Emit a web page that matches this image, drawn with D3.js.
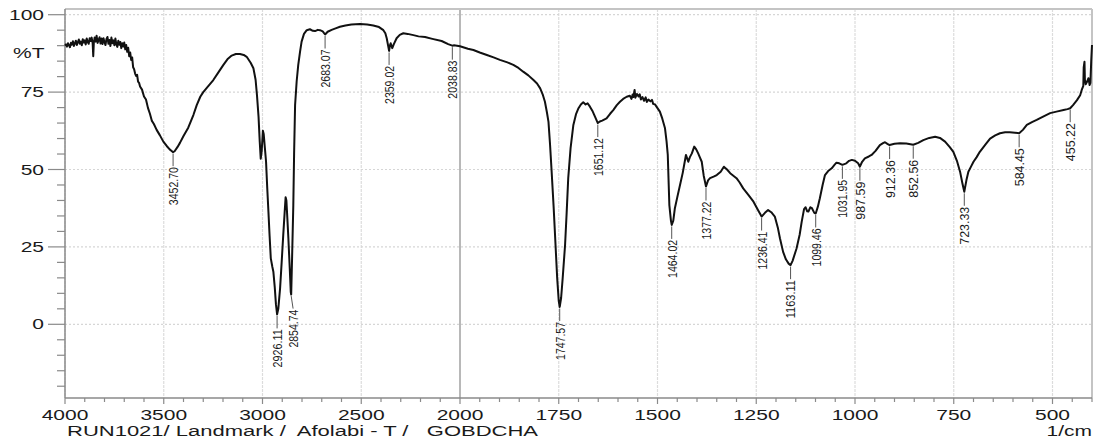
<!DOCTYPE html>
<html><head><meta charset="utf-8">
<script src="https://cdn.jsdelivr.net/npm/d3@7"></script>
<style>
html,body{margin:0;padding:0;background:#fff;}
svg{display:block;}
</style></head><body>
<svg id="chart" width="1096" height="445"></svg>
<script>
// FTIR spectrum: wavenumber (1/cm) against transmittance (%T)
const wavenumber = [
  4000,3995,3990,3985,3980,3975,3970,3965,3960,3955,
  3950,3945,3940,3935,3930,3925,3920,3915,3910,3905,
  3900,3895,3890,3885,3880,3875,3870,3865,3860,3857,
  3854,3850,3845,3840,3835,3830,3825,3820,3815,3810,
  3805,3800,3795,3790,3785,3780,3775,3770,3765,3760,
  3755,3750,3745,3740,3735,3730,3725,3720,3715,3710,
  3705,3700,3695,3690,3685,3680,3675,3670,3665,3660,
  3655,3650,3645,3640,3635,3630,3625,3620,
  3610,3600,3590,3580,3570,3560,3550,3536,3520,3502,3485,3470,3460,3452.70,3445,3430,3418,
  3400,3376,3350,3333,3315,3300,3280,3249,3225,3198,3175,3156,3135,3114,3095,3080,3060,3046,3035,3028,
  3020,3014,3009,3004,2998,2994,2988,2982,2976,2970,2964,2958,2950,2945,2938,2932,2926.11,2920,2911,2903,
  2895,2888,2883,2879,2874,2869,2862,2857,2854.74,2850,2844,2840,2835,2827,2819,2810,2802,2790,2776,2760,
  2745,2734,2720,2709,2695,2683.07,2670,2650,2630,2608,2580,2550,2506,2470,2439,2410,2388,2378,2371,2364,
  2359.02,2355,2351,2346,2343,2335,2321,2305,2287,2265,2236,2210,2177,2140,2093,2060,2038.83,2030,2015,2000,
  1980,1966,1950,1932,1915,1899,1880,1865,1852,1840,1827,1814,1805,1797,1790,1785,1780,1776,1772,1768,
  1763,1759,1754,1750,1747.57,1744,1740,1734,1730,1726,1720,1713,1706,1700,1694,1688,1682,1677,1671,1665,
  1658,1651.12,1646,1640,1629,1620,1612,1603,1595,1587,1578,
  1570,1566,1563,1561,1558,1556,1552,1548,1545,1542,1538,1534,1530,1527,1523,1518,1514,1511,1506,1503,
  1494,1488,1481,1477,1474,1470,1466,1464.02,1460,1456,1450,1443,1436,1428,1422,1418,
  1413,1407,1402,1397,1393,1388,1383,1377.22,1372,1367,1358,1350,1340,1332,1324,1316,1308,1300,1292,1283,
  1270,1257,1246,1236.41,1228,1220,1212,1203,1195,1190,1182,1175,1168,1163.11,1158,1148,1140,1135,1129,1125,
  1121,1118,1113,1109,1103,1099.46,1094,1089,1082,1076,1068,1059,1052,1047,1040,1031.95,1022,1015,1008,1000,
  992,987.59,982,975,965,958,948,937,928,924,918,912.36,900,886,870,852.56,840,827,812,797,
  785,772,760,751,742,734,728,723.33,718,713,706,700,692,684,670,658,645,633,620,608,
  595,584.45,575,565,552,540,525,506,490,472,462,455.22,448,438,430,426,422,421,419,418,
  416,412,409,406,404,402,400
];
const transmittance = [
  90.0,90.4,89.7,90.8,90.1,89.5,90.9,90.3,91.4,89.9,
  90.7,91.6,90.2,91.1,92.0,90.6,91.3,90.1,92.1,91.0,
  91.7,90.4,92.3,91.2,90.6,92.4,91.5,92.6,90.8,86.6,
  91.0,92.6,91.3,93.2,90.9,91.8,92.7,90.7,92.3,90.5,
  92.4,91.1,90.2,92.2,92.8,90.6,91.8,89.9,92.6,90.8,
  91.7,90.1,92.3,90.4,89.6,91.6,90.3,91.2,89.2,90.8,
  89.7,91.0,88.8,90.2,88.0,89.3,86.6,87.8,85.4,86.2,
  83.0,82.4,81.0,80.2,80.6,78.4,78.0,76.8,
  75.8,73.6,72.6,69.9,68.0,65.7,64.7,62.8,61.1,59.0,57.6,56.5,56.0,55.6,55.9,57.3,58.6,
  60.8,63.5,67.6,70.8,73.5,75.0,76.5,78.9,81.2,83.8,85.8,86.8,87.3,87.3,87.0,86.4,84.5,82.7,79.0,74.0,
  67.0,59.0,53.5,56.0,62.5,61.5,57.0,52.5,44.0,36.4,28.5,21.3,18.5,17.0,12.0,6.5,3.2,5.0,11.6,20.0,
  28.8,36.0,41.0,40.0,34.0,27.8,18.0,10.5,9.6,22.0,38.5,55.0,70.8,78.5,83.8,88.0,91.3,93.8,95.0,95.3,
  94.8,94.7,95.1,95.0,94.6,93.6,94.5,95.1,95.6,96.1,96.5,96.8,97.0,96.8,96.5,96.0,95.0,94.0,92.4,90.0,
  88.3,90.0,90.8,89.8,89.2,90.5,92.4,93.5,94.0,93.8,93.4,93.0,92.8,92.2,91.5,90.5,90.0,90.1,90.0,89.8,
  89.0,88.6,87.8,87.0,86.2,85.4,84.6,83.8,82.8,81.6,80.4,78.9,77.8,76.2,74.0,71.9,68.5,65.4,58.0,49.3,
  38.0,27.8,15.0,7.5,5.6,8.5,15.0,25.6,36.0,47.2,57.0,64.4,68.0,69.8,71.0,71.7,71.0,71.4,70.3,69.0,
  67.0,65.0,65.5,65.8,66.5,68.0,69.2,70.8,71.9,72.8,73.5,
  73.8,72.8,74.2,73.4,75.7,73.2,74.4,73.6,74.3,72.6,73.4,72.2,73.3,71.8,72.6,72.0,72.5,71.2,71.0,70.4,
  68.7,66.5,63.3,59.0,54.7,38.5,33.5,32.1,33.5,37.5,41.0,45.0,49.0,54.7,52.5,54.0,
  55.2,57.4,56.5,55.2,54.0,52.5,48.0,44.5,46.5,47.2,47.7,48.2,49.3,50.9,50.0,48.8,48.0,47.2,45.8,43.9,
  41.8,39.6,37.0,34.8,36.0,36.9,36.2,34.8,31.0,27.8,23.4,21.0,19.6,19.1,20.5,24.5,29.0,33.1,37.2,37.8,
  36.5,36.4,37.8,37.5,36.0,35.8,38.0,40.7,45.0,48.2,49.5,50.4,51.5,52.2,52.0,51.5,52.0,52.8,53.1,52.8,
  52.0,50.9,52.5,53.6,54.2,54.7,56.0,57.9,58.6,58.8,58.3,57.9,58.3,58.5,58.4,58.0,58.6,59.5,60.2,60.6,
  60.2,59.0,57.2,55.7,52.8,49.3,45.5,42.8,46.5,49.3,51.0,52.5,54.0,55.7,58.0,60.0,61.0,61.7,62.0,62.0,
  61.9,61.7,62.8,64.4,65.3,66.0,67.0,68.2,68.7,69.2,69.5,69.8,70.8,72.4,74.0,75.7,77.0,83.0,84.8,79.0,
  77.5,78.5,79.5,77.3,78.0,85.0,90.2
];
// Peak positions that carry a wavenumber label
const peakLabels = ["3452.70","2926.11","2854.74","2683.07","2359.02","2038.83","1747.57","1651.12",
  "1464.02","1377.22","1236.41","1163.11","1099.46","1031.95","987.59","912.36","852.56","723.33",
  "584.45","455.22"];
const xTickValues = [4000,3500,3000,2500,2000,1750,1500,1250,1000,750,500];
const yTickValues = [100,75,50,25,0];
const yTitle = "%T";
const xTitle = "1/cm";
const runCaption = "RUN1021/ Landmark /  Afolabi - T /   GOBDCHA";

const plot = {left: 65, right: 1092, top: 9, bottom: 398};
// the wavenumber axis doubles its scale below 2000 1/cm
const x = d3.scaleLinear().domain([4000, 2000, 400]).range([65, 460, 1092]);
const y = d3.scaleLinear().domain([0, 100]).range([324.3, 14.7]);

const svg = d3.select("#chart");
const font = "'Liberation Sans', Arial, Helvetica, sans-serif";
const stretch = 1.5;

// grid
const grid = svg.append("g");
xTickValues.forEach(v => {
  grid.append("line")
    .attr("x1", x(v)).attr("x2", x(v))
    .attr("y1", plot.top).attr("y2", plot.bottom)
    .attr("stroke", v === 2000 ? "#9a9a9a" : "#dcdcdc")
    .attr("stroke-width", v === 2000 ? 1.4 : 1.2)
    .attr("stroke-dasharray", v === 2000 ? null : "3,1");
});
yTickValues.forEach(v => {
  grid.append("line")
    .attr("x1", plot.left).attr("x2", plot.right)
    .attr("y1", y(v)).attr("y2", y(v))
    .attr("stroke", "#d6d6d6").attr("stroke-width", 1.2)
    .attr("stroke-dasharray", "2,2");
});

// frame
svg.append("line").attr("x1", plot.left).attr("x2", plot.right)
  .attr("y1", plot.top).attr("y2", plot.top)
  .attr("stroke", "#c4c4c4").attr("stroke-width", 2);
svg.append("line").attr("x1", plot.right).attr("x2", plot.right)
  .attr("y1", plot.top).attr("y2", plot.bottom)
  .attr("stroke", "#c4c4c4").attr("stroke-width", 2);

// y axis
const yMinor = d3.range(-20, 101, 5);
const yAxis = svg.append("g");
yAxis.append("line").attr("x1", plot.left).attr("x2", plot.left)
  .attr("y1", plot.top).attr("y2", plot.bottom).attr("stroke", "#8a8a8a").attr("stroke-width", 1.5);
yMinor.forEach(v => {
  const major = yTickValues.includes(v);
  yAxis.append("line")
    .attr("x1", major ? plot.left - 17 : plot.left - 8).attr("x2", plot.left)
    .attr("y1", y(v)).attr("y2", y(v))
    .attr("stroke", "#8a8a8a").attr("stroke-width", 1.2);
});
yTickValues.forEach(v => {
  yAxis.append("text")
    .attr("transform", `translate(${plot.left - 21},${y(v) + 5}) scale(${stretch},1)`)
    .attr("text-anchor", "end")
    .attr("font-family", font).attr("font-size", 14).attr("fill", "#1a1a1a")
    .text(v);
});
svg.append("text")
  .attr("transform", `translate(13,57.5) scale(${stretch},1)`)
  .attr("font-family", font).attr("font-size", 14).attr("fill", "#1a1a1a")
  .text(yTitle);

// x axis
const xAxis = svg.append("g");
xAxis.append("line").attr("x1", plot.left).attr("x2", plot.right)
  .attr("y1", plot.bottom).attr("y2", plot.bottom).attr("stroke", "#8a8a8a").attr("stroke-width", 1.5);
const xMinor = d3.range(4000, 2000, -100).concat(d3.range(2000, 399, -50));
xMinor.forEach(v => {
  const major = xTickValues.includes(v);
  xAxis.append("line")
    .attr("x1", x(v)).attr("x2", x(v))
    .attr("y1", plot.bottom).attr("y2", plot.bottom + (major ? 6 : 4))
    .attr("stroke", "#8a8a8a").attr("stroke-width", 1.2);
});
xTickValues.forEach(v => {
  xAxis.append("text")
    .attr("transform", `translate(${x(v)},420) scale(${stretch},1)`)
    .attr("text-anchor", "middle")
    .attr("font-family", font).attr("font-size", 14).attr("fill", "#1a1a1a")
    .text(v);
});
svg.append("text")
  .attr("transform", `translate(${plot.right},436) scale(${stretch},1)`)
  .attr("text-anchor", "end")
  .attr("font-family", font).attr("font-size", 14).attr("fill", "#1a1a1a")
  .text(xTitle);
svg.append("text")
  .attr("x", 67).attr("y", 436)
  .attr("font-family", font).attr("font-size", 14).attr("fill", "#1a1a1a")
  .attr("textLength", 471).attr("lengthAdjust", "spacingAndGlyphs")
  .style("white-space", "pre")
  .text(runCaption);

// spectrum
const spectrum = wavenumber.map((w, i) => [w, transmittance[i]]);
svg.append("path")
  .datum(spectrum)
  .attr("fill", "none").attr("stroke", "#111").attr("stroke-width", 2)
  .attr("stroke-linejoin", "round")
  .attr("d", d3.line().x(d => x(d[0])).y(d => y(d[1])));

// transmittance at a given wavenumber
function valueAt(w) {
  for (let i = 0; i < wavenumber.length - 1; i++) {
    const a = wavenumber[i], b = wavenumber[i + 1];
    if (w <= a && w >= b) {
      const t = (a - w) / (a - b);
      return transmittance[i] + t * (transmittance[i + 1] - transmittance[i]);
    }
  }
  return transmittance[transmittance.length - 1];
}

// peak labels with short leaders; crowded labels are nudged apart
const labels = svg.append("g");
let prevX = -Infinity;
peakLabels.forEach(s => {
  const w = +s;
  const px = x(w), py = y(valueAt(w));
  let lx = px;
  if (lx - prevX < 16) lx = prevX + 16;
  prevX = lx;
  labels.append("line")
    .attr("x1", px).attr("y1", py + 1.5)
    .attr("x2", lx).attr("y2", py + 14)
    .attr("stroke", "#555").attr("stroke-width", 1);
  labels.append("text")
    .attr("transform", `translate(${lx},${py + 15}) scale(1.3,1) rotate(-90)`)
    .attr("text-anchor", "end").attr("dy", "0.36em")
    .attr("font-family", font).attr("font-size", 10.5).attr("fill", "#1a1a1a")
    .attr("textLength", 38).attr("lengthAdjust", "spacingAndGlyphs")
    .text(s);
});
</script>
</body></html>
